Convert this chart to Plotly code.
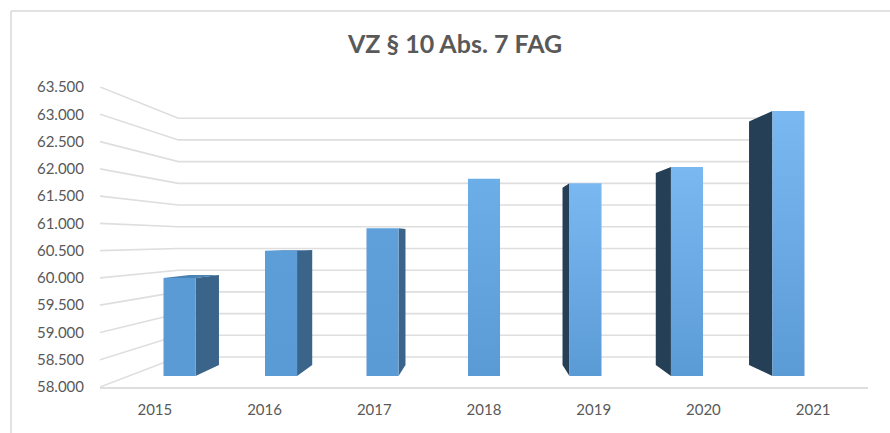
import plotly.graph_objects as go

# ---- data ----
years = ["2015", "2016", "2017", "2018", "2019", "2020", "2021"]
values = [59940, 60480, 60930, 61910, 61820, 62140, 63250]
y_ticks = [58000 + 500 * i for i in range(12)]
title = "VZ § 10 Abs. 7 FAG"

# ---- style ----
TEXT = "#595959"
GRID = "#DEDEDE"
top_colors = ["#5B9BD5", "#5D9DD8", "#5F9FDA", "#6CAEE8", "#7AB8F2", "#7AB8F2", "#7AB8F2"]
BOTTOM = "#5B9BD5"
SIDE_LEFT_PART = "#3A6489"
SIDE_RIGHT_PART = "#243F56"
TOP_FACE = "#4A82B4"

# ---- perspective of the 3-D frame, in data units ----
X0, X1 = -0.5, 6.5
Y0, Y1 = 58000, 63500
VX, VY = 3.0, 60695          # vanishing point
S_WALL = 0.796               # scale of the back wall
S_FRONT, S_BACK = 0.925, 0.85  # scale of the front and back of a bar
HALF = 0.158


def project(x, v, s):
    return VX + (x - VX) * s, VY + (v - VY) * s


def poly(points):
    xs, ys = zip(*points)
    return list(xs) + [xs[0]], list(ys) + [ys[0]]


fig = go.Figure()

# walls: left-wall diagonal + back-wall horizontal for each tick
for v in y_ticks:
    bx0, by = project(X0, v, S_WALL)
    bx1, _ = project(X1, v, S_WALL)
    fig.add_trace(go.Scatter(x=[X0, bx0, bx1], y=[v, by, by], mode="lines",
                             line=dict(color=GRID, width=1.6), hoverinfo="skip",
                             showlegend=False, cliponaxis=False))

# bars
for i, (year, v) in enumerate(zip(years, values)):
    xl, xr = i - HALF, i + HALF
    fl_b = project(xl, Y0, S_FRONT); fr_b = project(xr, Y0, S_FRONT)
    fl_t = project(xl, v, S_FRONT);  fr_t = project(xr, v, S_FRONT)
    bl_b = project(xl, Y0, S_BACK);  br_b = project(xr, Y0, S_BACK)
    bl_t = project(xl, v, S_BACK);   br_t = project(xr, v, S_BACK)

    if v < VY:
        px, py = poly([fl_t, fr_t, br_t, bl_t])
        fig.add_trace(go.Scatter(x=px, y=py, mode="none", fill="toself", fillcolor=TOP_FACE,
                                 hoverinfo="skip", showlegend=False))
    if xr < VX:
        px, py = poly([fr_b, fr_t, br_t, br_b])
        fig.add_trace(go.Scatter(x=px, y=py, mode="none", fill="toself", fillcolor=SIDE_LEFT_PART,
                                 hoverinfo="skip", showlegend=False))
    if xl > VX:
        px, py = poly([fl_b, fl_t, bl_t, bl_b])
        fig.add_trace(go.Scatter(x=px, y=py, mode="none", fill="toself", fillcolor=SIDE_RIGHT_PART,
                                 hoverinfo="skip", showlegend=False))
    px, py = poly([fl_b, fr_b, fr_t, fl_t])
    fig.add_trace(go.Scatter(x=px, y=py, mode="none", fill="toself", name=year,
                             fillgradient=dict(type="vertical",
                                               colorscale=[[0, BOTTOM], [1, top_colors[i]]]),
                             hoverinfo="skip", showlegend=False))

# outer frame of the picture
L, R, T, B = 100, 22, 87, 46
PW, PH = 890 - L - R, 433 - T - B
fx = lambda px: (px - L) / PW
fy = lambda py: 1 - (py - T) / PH
frame = dict(color="#D9D9D9", width=1.5)
fig.add_shape(type="line", xref="paper", yref="paper", x0=fx(11), x1=fx(890), y0=fy(11), y1=fy(11), line=frame)
fig.add_shape(type="line", xref="paper", yref="paper", x0=fx(11), x1=fx(11), y0=fy(11), y1=fy(433), line=frame)

fig.update_layout(
    width=890, height=433,
    margin=dict(l=L, r=R, t=T, b=B, autoexpand=False),
    paper_bgcolor="white", plot_bgcolor="white",
    separators=",.",
    showlegend=False,
    font=dict(family="Lato", color=TEXT, size=15),
    title=dict(text=f"<b>{title}</b>", x=455 / 890, xanchor="center", xref="container",
               y=1 - 44 / 433, yanchor="middle", yref="container",
               font=dict(family="Lato", size=25, color=TEXT)),
    xaxis=dict(range=[X0, X1], tickmode="array", tickvals=list(range(len(years))), ticktext=years,
               showgrid=False, zeroline=False, showline=True, linecolor=GRID, linewidth=1.6,
               ticks="", ticklabelstandoff=8, tickfont=dict(size=15, color=TEXT), fixedrange=True),
    yaxis=dict(range=[Y0, Y1], tickmode="array", tickvals=y_ticks, tickformat=",d",
               showgrid=False, zeroline=False, showline=False,
               ticks="", ticklabelstandoff=15, tickfont=dict(size=15, color=TEXT), fixedrange=True),
)

fig.write_html("out.html", config=dict(displayModeBar=False),
               post_script="document.body.style.margin='0';document.documentElement.style.overflow='hidden';")
